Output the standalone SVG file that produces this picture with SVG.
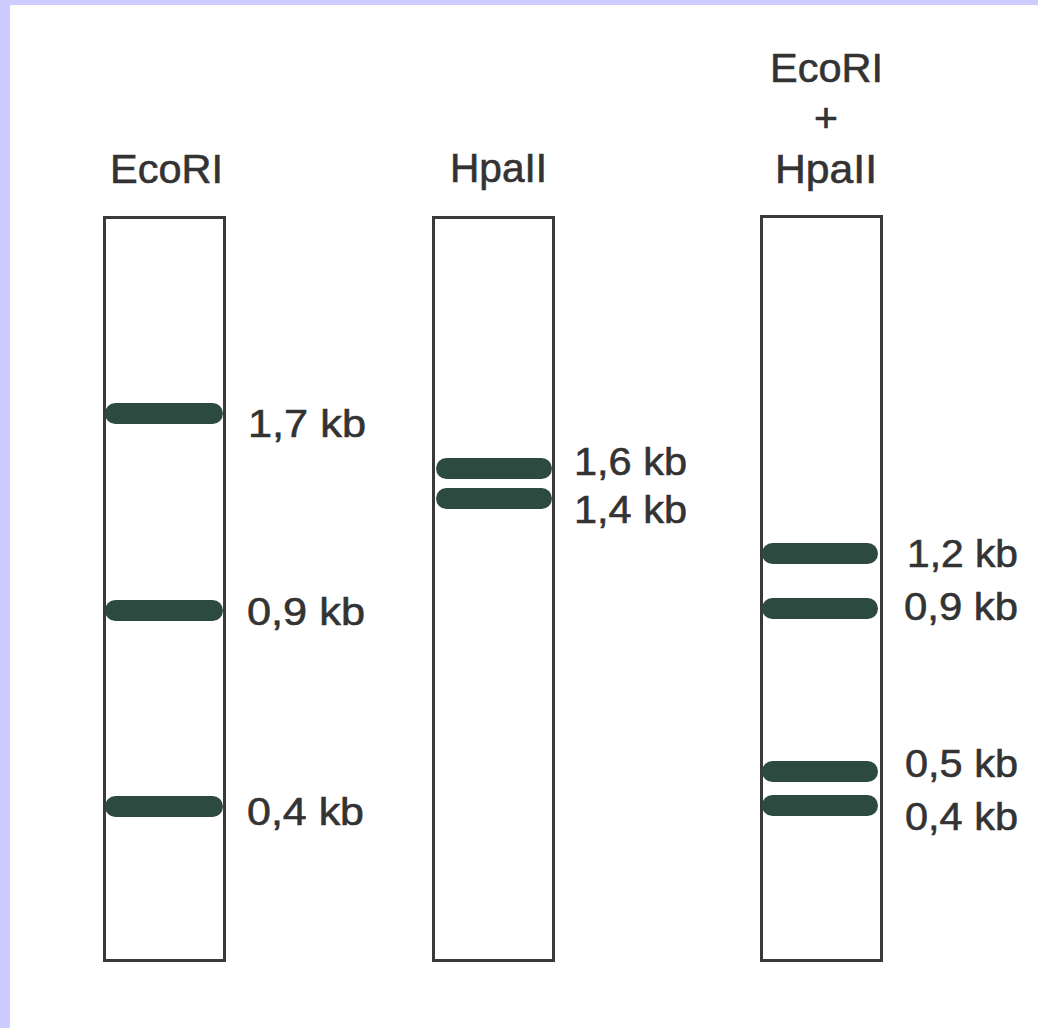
<svg xmlns="http://www.w3.org/2000/svg" width="1038" height="1028" viewBox="0 0 1038 1028">
  <style>
    .lane { fill: #ffffff; stroke: #3a3a3a; stroke-width: 3; }
    .band { fill: #2d4a41; }
    .hdr { font-family: "Liberation Sans", Arial, sans-serif; font-size: 41px; fill: #333333; stroke: #333333; stroke-width: 0.6; }
    .kb { font-family: "Liberation Sans", Arial, sans-serif; font-size: 39px; fill: #333333; stroke: #333333; stroke-width: 0.6; }
  </style>
  <rect x="0" y="0" width="1038" height="1028" fill="#ffffff"/>
  <rect x="0" y="0" width="1038" height="5" fill="#ccccff"/>
  <rect x="0" y="0" width="10" height="1028" fill="#ccccff"/>

  <g id="lane-ecori">
    <text class="hdr" x="166.5" y="183" text-anchor="middle" textLength="113" lengthAdjust="spacingAndGlyphs">EcoRI</text>
    <rect class="lane" x="104.5" y="217.5" width="120" height="743"/>
    <rect class="band" x="105" y="403" width="118" height="21" rx="10.5"/>
    <rect class="band" x="105" y="600" width="118" height="21" rx="10.5"/>
    <rect class="band" x="105" y="796" width="118" height="21" rx="10.5"/>
    <text class="kb" x="248" y="437" textLength="118" lengthAdjust="spacingAndGlyphs">1,7 kb</text>
    <text class="kb" x="247" y="625" textLength="118" lengthAdjust="spacingAndGlyphs">0,9 kb</text>
    <text class="kb" x="247" y="825" textLength="117" lengthAdjust="spacingAndGlyphs">0,4 kb</text>
  </g>

  <g id="lane-hpaii">
    <text class="hdr" x="498.5" y="182" text-anchor="middle" textLength="97" lengthAdjust="spacingAndGlyphs">HpaII</text>
    <rect class="lane" x="433.5" y="217.5" width="120" height="743"/>
    <rect class="band" x="436" y="458" width="116" height="21" rx="10.5"/>
    <rect class="band" x="436" y="488" width="116" height="21" rx="10.5"/>
    <text class="kb" x="574" y="475" textLength="113" lengthAdjust="spacingAndGlyphs">1,6 kb</text>
    <text class="kb" x="574" y="523" textLength="113" lengthAdjust="spacingAndGlyphs">1,4 kb</text>
  </g>

  <g id="lane-ecori-hpaii">
    <text class="hdr" x="826.5" y="82" text-anchor="middle" textLength="113" lengthAdjust="spacingAndGlyphs">EcoRI</text>
    <text class="hdr" x="826" y="132" text-anchor="middle">+</text>
    <text class="hdr" x="826" y="183" text-anchor="middle" textLength="102" lengthAdjust="spacingAndGlyphs">HpaII</text>
    <rect class="lane" x="761.5" y="216.5" width="120" height="744"/>
    <rect class="band" x="762" y="543" width="116" height="21" rx="10.5"/>
    <rect class="band" x="762" y="598" width="116" height="21" rx="10.5"/>
    <rect class="band" x="762" y="761" width="116" height="21" rx="10.5"/>
    <rect class="band" x="762" y="795" width="116" height="21" rx="10.5"/>
    <text class="kb" x="907" y="567" textLength="111" lengthAdjust="spacingAndGlyphs">1,2 kb</text>
    <text class="kb" x="904" y="620" textLength="114" lengthAdjust="spacingAndGlyphs">0,9 kb</text>
    <text class="kb" x="905" y="777" textLength="113" lengthAdjust="spacingAndGlyphs">0,5 kb</text>
    <text class="kb" x="905" y="830" textLength="113" lengthAdjust="spacingAndGlyphs">0,4 kb</text>
  </g>
</svg>
